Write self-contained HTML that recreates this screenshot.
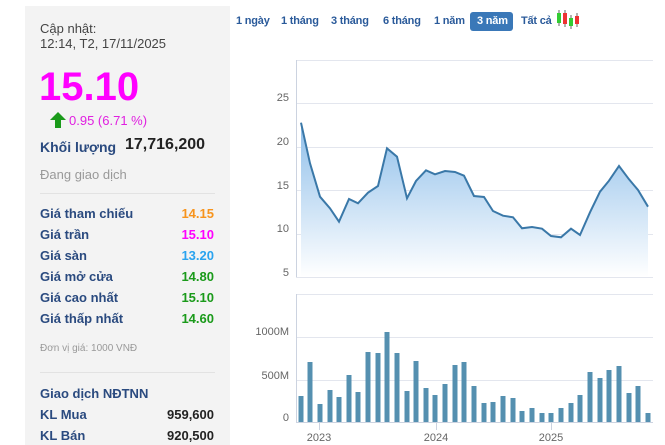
<!DOCTYPE html><html><head><meta charset="utf-8"><style>
body{margin:0;width:665px;height:445px;background:#fff;font-family:"Liberation Sans",Arial,sans-serif;position:relative;overflow:hidden}
.p{position:absolute;left:25px;top:6px;width:205px;height:439px;background:#f3f3f3}
.a{position:absolute;white-space:nowrap}
.l{color:#2a4a7f;font-weight:bold;font-size:13px}
.v{font-size:13px;font-weight:bold;right:0}
.t{position:absolute;top:15px;font-size:11px;font-weight:bold;color:#2a5a9a;white-space:nowrap;letter-spacing:-0.2px}
</style></head><body>
<div class="p">
<div class="a" style="left:15px;top:15px;font-size:13px;color:#444;line-height:15px">Cập nhật:<br>12:14, T2, 17/11/2025</div>
<div class="a" style="left:14px;top:59px;font-size:40px;font-weight:bold;color:#f0f">15.10</div>
<div class="a" style="left:25px;top:106px;width:0;height:0;border-left:8px solid transparent;border-right:8px solid transparent;border-bottom:8px solid #1a9a1a"></div>
<div class="a" style="left:30px;top:114px;width:6px;height:8px;background:#1a9a1a"></div>
<div class="a" style="left:44px;top:107px;font-size:13px;color:#e020e0">0.95 (6.71 %)</div>
<div class="a l" style="left:15px;top:133px;font-size:14px">Khối lượng</div>
<div class="a" style="left:100px;top:130px;font-size:16px;font-weight:bold;color:#222">17,716,200</div>
<div class="a" style="left:15px;top:161px;font-size:13px;color:#999">Đang giao dịch</div>
<div class="a" style="left:15px;top:187px;width:175px;height:1px;background:#e2e2e2"></div>
<div class="a l" style="left:15px;top:200px">Giá tham chiếu</div><div class="a v" style="right:16px;top:200px;color:#f7941d">14.15</div>
<div class="a l" style="left:15px;top:221px">Giá trần</div><div class="a v" style="right:16px;top:221px;color:#f0f">15.10</div>
<div class="a l" style="left:15px;top:242px">Giá sàn</div><div class="a v" style="right:16px;top:242px;color:#29a3ef">13.20</div>
<div class="a l" style="left:15px;top:263px">Giá mở cửa</div><div class="a v" style="right:16px;top:263px;color:#1a9a1a">14.80</div>
<div class="a l" style="left:15px;top:284px">Giá cao nhất</div><div class="a v" style="right:16px;top:284px;color:#1a9a1a">15.10</div>
<div class="a l" style="left:15px;top:305px">Giá thấp nhất</div><div class="a v" style="right:16px;top:305px;color:#1a9a1a">14.60</div>
<div class="a" style="left:15px;top:337px;font-size:10px;color:#999">Đơn vị giá: 1000 VNĐ</div>
<div class="a" style="left:15px;top:366px;width:175px;height:1px;background:#e2e2e2"></div>
<div class="a l" style="left:15px;top:380px">Giao dịch NĐTNN</div>
<div class="a l" style="left:15px;top:401px">KL Mua</div><div class="a v" style="right:16px;top:401px;color:#222">959,600</div>
<div class="a l" style="left:15px;top:422px">KL Bán</div><div class="a v" style="right:16px;top:422px;color:#222">920,500</div>
</div>
<div class="t" style="left:236px">1 ngày</div>
<div class="t" style="left:281px">1 tháng</div>
<div class="t" style="left:331px">3 tháng</div>
<div class="t" style="left:383px">6 tháng</div>
<div class="t" style="left:434px">1 năm</div>
<div class="a" style="left:470px;top:12px;width:43px;height:19px;background:#3a78b8;border-radius:3px"></div>
<div class="t" style="left:477px;color:#fff">3 năm</div>
<div class="t" style="left:521px">Tất cả</div>
<svg class="a" style="left:0;top:0" width="665" height="445">
<defs><linearGradient id="g" x1="0" y1="0" x2="0" y2="1"><stop offset="0" stop-color="#8fbfea"/><stop offset="1" stop-color="#fff"/></linearGradient></defs>
<g>
<line x1="559" y1="10" x2="559" y2="26" stroke="#666"/><line x1="565" y1="10" x2="565" y2="27" stroke="#666"/><line x1="571" y1="15" x2="571" y2="29" stroke="#666"/><line x1="577" y1="13" x2="577" y2="27" stroke="#666"/>
<rect x="557" y="13" width="4" height="10" fill="#3c3"/><rect x="563" y="13" width="4" height="11" fill="#e33"/><rect x="569" y="18" width="4" height="8" fill="#3c3"/><rect x="575" y="16" width="4" height="8" fill="#e33"/>
</g>
<g stroke="#e3e6ee" stroke-width="1">
<line x1="296" y1="60.5" x2="653" y2="60.5"/><line x1="296" y1="103.5" x2="653" y2="103.5"/><line x1="296" y1="147.5" x2="653" y2="147.5"/><line x1="296" y1="190.5" x2="653" y2="190.5"/><line x1="296" y1="234.5" x2="653" y2="234.5"/><line x1="296" y1="277.5" x2="653" y2="277.5"/>
<line x1="296" y1="294.5" x2="653" y2="294.5"/><line x1="296" y1="337.5" x2="653" y2="337.5"/><line x1="296" y1="380.5" x2="653" y2="380.5"/>
</g>
<line x1="296.5" y1="60" x2="296.5" y2="277" stroke="#ccd3e0"/><line x1="296.5" y1="294" x2="296.5" y2="422" stroke="#ccd3e0"/>
<line x1="296" y1="422.5" x2="653" y2="422.5" stroke="#ccd3e0"/>
<g stroke="#ccd3e0"><line x1="319.5" y1="422" x2="319.5" y2="430"/><line x1="436.5" y1="422" x2="436.5" y2="430"/><line x1="551.5" y1="422" x2="551.5" y2="430"/></g>
<g font-size="11" fill="#666" text-anchor="end">
<text x="289" y="101">25</text><text x="289" y="145">20</text><text x="289" y="189">15</text><text x="289" y="232">10</text><text x="289" y="276">5</text>
<text x="289" y="335">1000M</text><text x="289" y="379">500M</text><text x="289" y="421">0</text>
</g>
<g font-size="11" fill="#666" text-anchor="middle"><text x="319" y="441">2023</text><text x="436" y="441">2024</text><text x="551" y="441">2025</text></g>
<path d="M301,122.7 L310,163.3 L320,196.7 L330,208.3 L339,221.7 L349,199 L358,203.3 L368,192.7 L378,186 L387,148.3 L397,156.7 L407,198.3 L416,181 L426,170.3 L435,174.3 L445,171 L455,172 L464,175.7 L474,196 L484,197 L493,211 L503,215.7 L513,217.3 L522,228.3 L532,227 L542,228.7 L551,236 L561,237.3 L571,228.7 L580,235 L590,212.3 L600,191.7 L609,180.7 L619,166 L629,179.3 L638,190 L648,206.7 L648,277 L301,277 Z" fill="url(#g)"/>
<polyline points="301,122.7 310,163.3 320,196.7 330,208.3 339,221.7 349,199 358,203.3 368,192.7 378,186 387,148.3 397,156.7 407,198.3 416,181 426,170.3 435,174.3 445,171 455,172 464,175.7 474,196 484,197 493,211 503,215.7 513,217.3 522,228.3 532,227 542,228.7 551,236 561,237.3 571,228.7 580,235 590,212.3 600,191.7 609,180.7 619,166 629,179.3 638,190 648,206.7" fill="none" stroke="#3a78a8" stroke-width="2"/>
<g fill="#5590b0" id="bars"></g>
</svg>
<script>
var xs=[301,310,320,330,339,349,358,368,378,387,397,407,416,426,435,445,455,464,474,484,493,503,513,522,532,542,551,561,571,580,590,600,609,619,629,638,648];
var t=[348,246,372,330,351,285,336,216,219,156,219,333,243,324,345,312,255,246,318,369,366,348,354,393,384,399,399,384,369,345,276,294,270,258,339,318,399];
var g=document.getElementById('bars'),s='';
for(var i=0;i<xs.length;i++){var y=280+t[i]/3;s+='<rect x="'+(xs[i]-2.5)+'" y="'+y+'" width="5" height="'+(422-y)+'"/>';}
g.innerHTML=s;
</script>
</body></html>
